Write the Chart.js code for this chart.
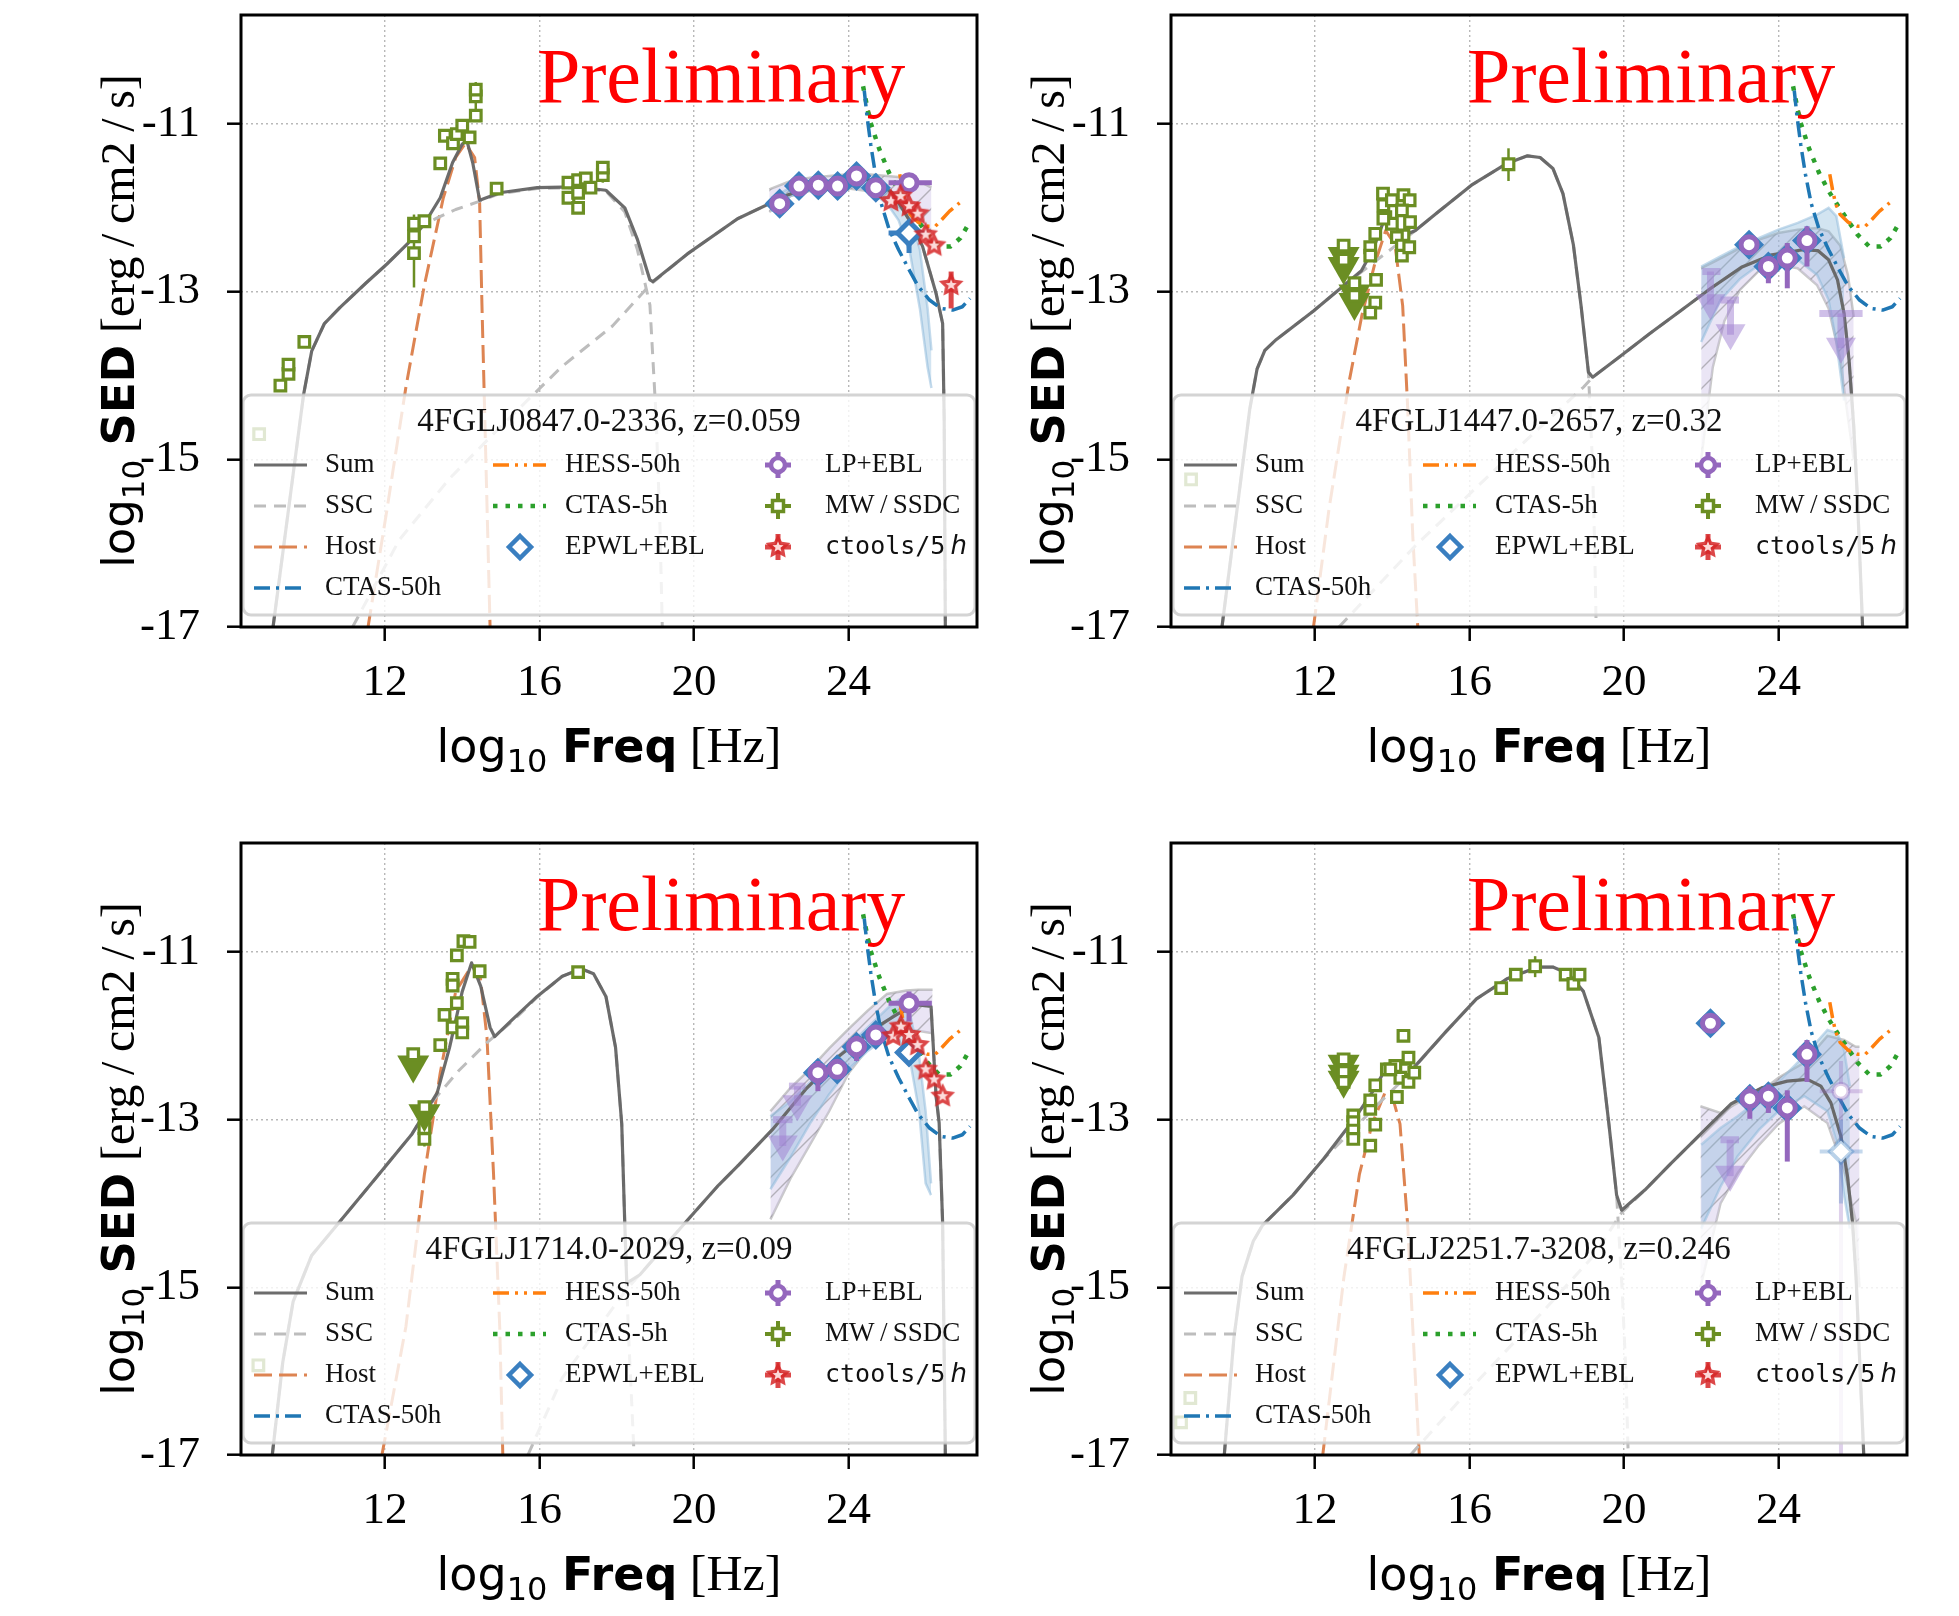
<!DOCTYPE html>
<html>
<head>
<meta charset="utf-8">
<title>SED panels</title>
<script src="https://cdn.jsdelivr.net/npm/chart.js@4.4.1/dist/chart.umd.min.js"></script>
<style>
  html, body { margin: 0; padding: 0; background: #fff; }
  body { width: 1959px; height: 1616px; position: relative; overflow: hidden; }
  canvas { position: absolute; }
</style>
</head>
<body>
<canvas id="p1" width="980" height="808" style="left:0;top:0"></canvas>
<canvas id="p2" width="980" height="808" style="left:930px;top:0"></canvas>
<canvas id="p3" width="980" height="808" style="left:0;top:828px"></canvas>
<canvas id="p4" width="980" height="808" style="left:930px;top:828px"></canvas>
<script>
'use strict';

/* axes */
const xTicks = [12, 16, 20, 24];
const yTicks = [-17, -15, -13, -11];
const xRange = [8.27, 27.33];
const yRange = [-17, -9.7];

const sourceNames = ['4FGLJ0847.0-2336, z=0.059', '4FGLJ1447.0-2657, z=0.32',
                     '4FGLJ1714.0-2029, z=0.09', '4FGLJ2251.7-3208, z=0.246'];
const legendLabels = ['Sum', 'SSC', 'Host', 'CTAS-50h', 'HESS-50h', 'CTAS-5h',
                      'EPWL+EBL', 'LP+EBL', 'MW\u2009/\u2009SSDC', 'ctools/5'];

/* instrument sensitivities (same in every panel) */
const ctas50h = [[24.41,-10.6],[24.48,-10.9],[24.58,-11.25],[24.7,-11.6],[24.85,-11.95],[25.05,-12.25],[25.3,-12.5],[25.55,-12.72],[25.8,-12.93],[26.1,-13.1],[26.4,-13.2],[26.7,-13.22],[26.95,-13.18],[27.15,-13.08]];
const ctas5h = [[24.38,-10.55],[24.55,-10.95],[24.8,-11.3],[25.05,-11.58],[25.3,-11.8],[25.55,-11.98],[25.8,-12.15],[26.05,-12.32],[26.35,-12.46],[26.65,-12.46],[26.9,-12.36],[27.13,-12.18]];
const hess50h = [[25.33,-11.6],[25.4,-11.78],[25.48,-11.95],[25.6,-12.08],[25.8,-12.17],[26.05,-12.22],[26.25,-12.22],[26.42,-12.14],[26.62,-12.04],[26.88,-11.94]];

/* panel 1 : 4FGLJ0847.0-2336 */
const p1Sum = [[9.1,-17],[9.5,-15.6],[9.89,-14.23],[10.1,-13.71],[10.43,-13.38],[10.83,-13.19],[11.5,-12.9],[12.05,-12.67],[12.6,-12.42],[13.02,-12.19],[13.43,-11.88],[13.75,-11.46],[14.0,-11.24],[14.12,-11.2],[14.27,-11.46],[14.45,-11.91],[14.97,-11.82],[15.94,-11.76],[16.91,-11.75],[17.72,-11.79],[18.21,-12.0],[18.53,-12.37],[18.86,-12.86],[18.94,-12.88],[19.83,-12.55],[21.13,-12.13],[22.46,-11.84],[23.33,-11.71],[24.02,-11.65],[24.62,-11.67],[25.14,-11.82],[25.57,-12.14],[25.92,-12.46],[26.27,-13.02],[26.44,-13.38],[26.48,-14.5],[26.51,-17]];
const p1SscSyn = [[9.1,-17],[9.5,-15.6],[9.89,-14.23],[10.1,-13.71],[10.43,-13.38],[10.83,-13.19],[11.5,-12.9],[12.05,-12.67],[12.6,-12.42],[13.02,-12.2],[13.35,-12.12],[13.83,-12.02],[14.4,-11.93],[14.97,-11.83],[15.94,-11.77],[16.91,-11.76],[17.72,-11.8],[18.21,-12.05],[18.53,-12.49],[18.86,-13.16],[19.02,-14.5],[19.12,-15.8],[19.18,-17]];
const p1SscIc = [[11.16,-17],[12.37,-15.96],[13.67,-15.23],[14.97,-14.62],[16.59,-13.89],[17.89,-13.41],[18.86,-12.92],[19.83,-12.55],[21.13,-12.13],[22.46,-11.84],[23.33,-11.71],[24.02,-11.65],[24.62,-11.67],[25.14,-11.82],[25.57,-12.14],[25.92,-12.46],[26.27,-13.02],[26.44,-13.38],[26.48,-14.5],[26.51,-17]];
const p1Host = [[11.56,-17],[12.05,-15.6],[12.54,-14.14],[13.02,-12.92],[13.51,-11.88],[13.83,-11.4],[14.08,-11.23],[14.32,-11.4],[14.45,-11.94],[14.51,-13.16],[14.61,-14.99],[14.72,-17]];
const p1Mw = [[8.74,-14.7],[9.29,-14.12],[9.5,-13.98],[9.5,-13.87],[9.91,-13.6],[12.75,-12.19,-12.95,-12.08],[12.75,-12.34],[12.75,-12.54],[13.02,-12.16],[13.43,-11.47],[13.55,-11.14],[13.76,-11.23],[13.86,-11.12],[14.0,-11.02],[14.19,-11.16],[14.35,-10.9],[14.35,-10.67],[14.35,-10.59,-10.95,-10.5],[14.89,-11.77],[16.75,-11.7],[16.75,-11.88],[17.0,-12.0],[17.0,-11.82],[17.0,-11.67],[17.2,-11.65],[17.32,-11.76],[17.64,-11.61],[17.64,-11.52,-11.7,-11.45]];
const p1Lp = [[22.22,-11.95,-12.08,-11.85],[22.72,-11.74],[23.22,-11.73],[23.72,-11.74],[24.21,-11.62],[24.71,-11.76],[25.57,-11.7,-11.78,-11.62,25.04,26.16]];
const p1Epwl = [[22.22,-11.95],[22.72,-11.74],[23.22,-11.73],[23.72,-11.74],[24.21,-11.62],[24.71,-11.76],[25.57,-12.3,-12.54,-12.18,25.04,26.05]];
const p1Ctools = [[25.1,-11.92],[25.35,-11.86],[25.57,-11.98],[25.79,-12.07],[26.0,-12.32],[26.22,-12.45],[26.66,-12.92,-13.2,-12.76]];
const p1LpBand = [[21.95,-12.05,-11.78],[22.5,-11.86,-11.68],[23.0,-11.8,-11.64],[23.5,-11.78,-11.62],[24.0,-11.77,-11.6],[24.5,-11.8,-11.6],[25.0,-11.9,-11.62],[25.5,-12.05,-11.64],[25.9,-12.2,-11.7],[26.15,-12.28,-11.76]];
const p1EpwlBand = [[22.0,-12.04,-11.88],[22.5,-11.86,-11.76],[23.0,-11.78,-11.7],[23.5,-11.75,-11.67],[24.0,-11.74,-11.65],[24.5,-11.78,-11.67],[25.0,-11.95,-11.76],[25.3,-12.15,-11.88],[25.6,-12.55,-12.1],[25.85,-13.2,-12.5],[26.05,-13.9,-13.2],[26.15,-14.15,-13.7]];

/* panel 2 : 4FGLJ1447.0-2657 */
const p2Sum = [[9.59,-17],[9.98,-15.6],[10.31,-14.4],[10.5,-13.92],[10.7,-13.7],[11.0,-13.57],[11.96,-13.23],[12.74,-12.93],[13.2,-12.75],[13.5,-12.5],[13.81,-12.12],[14.05,-12.22],[14.3,-12.33],[14.6,-12.27],[15.13,-12.07],[16.05,-11.73],[16.97,-11.47],[17.5,-11.38],[17.83,-11.4],[18.16,-11.53],[18.42,-11.83],[18.69,-12.44],[18.89,-13.17],[19.08,-13.96],[19.19,-14.02],[19.88,-13.78],[20.67,-13.5],[21.46,-13.23],[22.25,-12.96],[23.04,-12.71],[23.83,-12.56],[24.63,-12.5],[25.02,-12.51],[25.3,-12.62],[25.53,-12.86],[25.7,-13.26],[25.83,-13.82],[25.95,-14.6],[26.05,-15.5],[26.18,-17]];
const p2SscSyn = [[9.59,-17],[9.98,-15.6],[10.31,-14.4],[10.5,-13.92],[10.7,-13.7],[11.0,-13.57],[11.96,-13.23],[12.74,-12.93],[13.3,-12.73],[13.95,-12.5],[14.6,-12.27],[15.13,-12.07],[16.05,-11.73],[16.97,-11.47],[17.5,-11.38],[17.83,-11.4],[18.16,-11.53],[18.42,-11.83],[18.69,-12.44],[18.89,-13.17],[19.08,-13.96],[19.18,-15.0],[19.24,-16.0],[19.28,-17]];
const p2SscIc = [[12.62,-17],[14.6,-16.03],[17.24,-14.87],[18.95,-14.14],[19.19,-14.02],[19.88,-13.78],[20.67,-13.5],[21.46,-13.23],[22.25,-12.96],[23.04,-12.71],[23.83,-12.56],[24.63,-12.5],[25.02,-12.51],[25.3,-12.62],[25.53,-12.86],[25.7,-13.26],[25.83,-13.82],[25.95,-14.6],[26.05,-15.5],[26.18,-17]];
const p2Host = [[11.96,-17],[12.36,-15.6],[12.88,-14.08],[13.21,-13.29],[13.54,-12.68],[13.83,-12.27],[14.07,-12.44],[14.27,-13.17],[14.4,-14.39],[14.53,-15.9],[14.66,-17]];
const p2Mw = [[8.79,-15.24],[13.76,-11.83],[13.77,-11.97],[13.99,-11.91],[14.29,-11.85],[14.45,-11.91],[14.25,-12.03],[13.82,-12.11],[13.99,-12.19],[14.29,-12.33],[14.46,-12.17],[14.12,-12.35],[14.25,-12.45],[14.25,-12.57],[14.44,-12.47],[13.56,-12.31],[13.43,-12.47],[13.43,-12.57],[13.58,-12.86],[13.56,-13.13],[13.43,-13.25],[13.77,-12.13],[17.01,-11.48,-11.68,-11.29]];
const p2MwUl = [[12.74,-12.45,0.35],[12.74,-12.62,0.3],[13.02,-12.9,0.35],[13.02,-13.05,0.3]];
const p2Lp = [[23.24,-12.44],[23.74,-12.7,-12.9,-12.58],[24.23,-12.6,-12.96,-12.42],[24.74,-12.39,-12.7,-12.22]];
const p2Epwl = [[23.24,-12.44],[23.74,-12.7],[24.23,-12.6],[24.74,-12.39]];
const p2LpUl = [[22.24,-12.76,22.03,22.5,0.58],[22.76,-13.1,22.5,22.98,0.6],[25.62,-13.26,25.06,26.18,0.6]];
const p2LpBand = [[22.0,-15.0,-12.72],[22.3,-13.9,-12.65],[22.6,-13.35,-12.58],[23.0,-12.98,-12.48],[23.5,-12.75,-12.38],[24.0,-12.68,-12.3],[24.5,-12.72,-12.26],[25.0,-12.92,-12.24],[25.3,-13.2,-12.28],[25.6,-13.8,-12.45],[25.8,-14.5,-12.8],[25.95,-15.0,-13.3]];
const p2EpwlBand = [[22.0,-13.6,-12.7],[22.5,-13.1,-12.58],[23.0,-12.85,-12.46],[23.5,-12.68,-12.36],[24.0,-12.6,-12.26],[24.5,-12.62,-12.18],[25.0,-12.8,-12.08],[25.3,-13.1,-12.0],[25.5,-13.6,-12.1],[25.7,-14.3,-12.6]];

/* panel 3 : 4FGLJ1714.0-2029 */
const p3Sum = [[9.08,-17],[9.35,-15.9],[9.62,-15.17],[10.1,-14.62],[10.75,-14.26],[11.72,-13.72],[12.7,-13.17],[13.35,-12.68],[13.67,-12.14],[14.0,-11.47],[14.24,-11.13],[14.48,-11.41],[14.72,-11.9],[14.84,-12.01],[15.29,-11.81],[15.94,-11.53],[16.59,-11.29],[17.08,-11.2],[17.4,-11.26],[17.72,-11.53],[17.97,-12.14],[18.13,-13.05],[18.21,-14.26],[18.26,-14.95],[18.6,-14.85],[19.83,-14.2],[20.64,-13.78],[21.16,-13.54],[22.03,-13.12],[22.89,-12.64],[23.76,-12.24],[24.62,-11.93],[25.31,-11.73],[25.8,-11.63],[26.14,-11.65],[26.27,-12.72],[26.35,-13.04],[26.44,-14.23],[26.51,-17]];
const p3SscSyn = [[9.08,-17],[9.35,-15.9],[9.62,-15.17],[10.1,-14.62],[10.75,-14.26],[11.72,-13.72],[12.7,-13.17],[13.18,-12.81],[13.9,-12.42],[14.64,-12.08],[15.29,-11.83],[15.94,-11.54],[16.59,-11.29],[17.08,-11.2],[17.4,-11.26],[17.72,-11.53],[17.97,-12.14],[18.13,-13.05],[18.21,-14.26],[18.3,-15.5],[18.45,-17]];
const p3SscIc = [[15.7,-17],[16.59,-16.08],[18.21,-15.05],[19.83,-14.2],[20.64,-13.78],[21.16,-13.54],[22.03,-13.12],[22.89,-12.64],[23.76,-12.24],[24.62,-11.93],[25.31,-11.73],[25.8,-11.63],[26.14,-11.65],[26.27,-12.72],[26.35,-13.04],[26.44,-14.23],[26.51,-17]];
const p3Host = [[11.92,-17],[12.54,-15.47],[13.02,-13.65],[13.43,-12.44],[13.83,-11.47],[14.24,-11.17],[14.45,-11.23],[14.64,-12.02],[14.81,-13.65],[14.97,-15.47],[15.05,-17]];
const p3Mw = [[8.72,-15.93],[13.02,-13.1],[13.02,-13.23,-13.32,-12.95],[13.43,-12.11],[13.54,-11.75],[13.75,-11.9],[13.75,-11.32],[13.75,-11.4],[13.86,-11.61],[14.0,-11.85],[14.0,-11.96],[13.86,-11.04],[14.03,-10.87],[14.19,-10.88],[14.45,-11.23],[17.0,-11.24]];
const p3MwUl = [[12.73,-12.22,0.35],[13.02,-12.85,0.3]];
const p3Lp = [[23.21,-12.44,-12.66,-12.3],[23.71,-12.4],[24.21,-12.13,-12.3,-12.0],[24.71,-11.99,-12.1,-11.88],[25.57,-11.61,-11.83,-11.47,25.04,26.16]];
const p3Epwl = [[23.21,-12.44],[23.71,-12.4],[24.21,-12.13],[24.71,-11.99],[25.57,-12.2,-12.32,-12.1]];
const p3LpUl = [[22.68,-12.6,22.46,22.89,0.42],[22.3,-13.0,22.05,22.55,0.5]];
const p3Ctools = [[25.16,-12.0],[25.36,-11.89],[25.57,-11.99],[25.79,-12.11],[26.0,-12.4],[26.22,-12.52],[26.44,-12.72]];
const p3LpBand = [[21.98,-14.19,-12.9],[22.5,-13.7,-12.62],[23.0,-13.3,-12.4],[23.5,-12.9,-12.15],[24.0,-12.45,-11.92],[24.5,-12.15,-11.7],[25.0,-11.98,-11.5],[25.5,-11.92,-11.46],[25.8,-11.94,-11.45],[26.18,-11.97,-11.45]];
const p3EpwlBand = [[21.98,-13.83,-12.96],[22.5,-13.45,-12.78],[23.0,-13.05,-12.56],[23.5,-12.7,-12.35],[24.0,-12.4,-12.12],[24.5,-12.18,-11.9],[25.06,-12.0,-11.65],[25.31,-12.05,-11.57],[25.6,-12.3,-11.75],[25.83,-12.9,-12.24],[26.0,-13.76,-12.9],[26.14,-13.9,-13.76]];

/* panel 4 : 4FGLJ2251.7-3208 */
const p4Sum = [[9.65,-17],[9.9,-15.6],[10.11,-14.87],[10.4,-14.45],[10.64,-14.26],[11.43,-13.9],[12.22,-13.47],[13.02,-12.99],[13.5,-12.66],[13.81,-12.41],[14.0,-12.38],[14.2,-12.44],[14.4,-12.46],[15.39,-11.95],[16.18,-11.56],[16.97,-11.32],[17.77,-11.18],[18.16,-11.18],[18.56,-11.26],[18.95,-11.47],[19.35,-12.02],[19.61,-13.05],[19.81,-13.9],[19.94,-14.08],[20.54,-13.84],[21.2,-13.53],[21.99,-13.17],[22.78,-12.81],[23.57,-12.62],[24.23,-12.54],[24.75,-12.52],[25.1,-12.6],[25.36,-12.8],[25.62,-13.2],[25.79,-13.68],[25.92,-14.23],[26.01,-14.87],[26.21,-17]];
const p4SscSyn = [[9.65,-17],[9.9,-15.6],[10.11,-14.87],[10.4,-14.45],[10.64,-14.26],[11.43,-13.9],[12.22,-13.47],[13.02,-13.1],[13.73,-12.77],[14.4,-12.47],[15.39,-11.95],[16.18,-11.56],[16.97,-11.32],[17.77,-11.18],[18.16,-11.18],[18.56,-11.26],[18.95,-11.47],[19.35,-12.02],[19.61,-13.05],[19.81,-13.9],[19.95,-15.0],[20.05,-16.0],[20.11,-17]];
const p4SscIc = [[14.47,-17],[15.92,-16.26],[17.9,-15.29],[19.22,-14.62],[19.94,-14.11],[20.54,-13.84],[21.2,-13.53],[21.99,-13.17],[22.78,-12.81],[23.57,-12.62],[24.23,-12.54],[24.75,-12.52],[25.1,-12.6],[25.36,-12.8],[25.62,-13.2],[25.79,-13.68],[25.92,-14.23],[26.01,-14.87],[26.21,-17]];
const p4Host = [[12.2,-17],[12.75,-14.87],[13.15,-13.65],[13.48,-13.05],[13.81,-12.68],[14.0,-12.72],[14.2,-13.05],[14.4,-14.26],[14.53,-15.47],[14.7,-17]];
const p4Mw = [[8.77,-16.32],[8.53,-16.61],[12.99,-12.95],[12.99,-13.03],[12.99,-13.13],[12.99,-13.23],[13.43,-13.31],[13.56,-13.06],[13.43,-12.87],[13.43,-12.77],[13.56,-12.59],[13.86,-12.4],[14.12,-12.73],[14.29,-12.0],[14.33,-12.4],[14.21,-12.5],[14.42,-12.55],[14.57,-12.44],[14.42,-12.26],[14.08,-12.36],[13.95,-12.4],[16.82,-11.43],[17.2,-11.27],[17.7,-11.17,-11.3,-11.05],[18.49,-11.27],[18.69,-11.38],[18.85,-11.27]];
const p4MwUl = [[12.74,-12.28,0.28],[12.74,-12.43,0.25],[12.74,-12.55,0.2]];
const p4Lp = [[22.24,-11.85],[23.26,-12.75,-12.99,-12.6],[23.74,-12.72,-12.92,-12.58],[24.23,-12.86,-13.5,-12.65],[24.74,-12.22,-12.55,-12.05]];
const p4Epwl = [[22.24,-11.85],[23.26,-12.75],[23.74,-12.72],[24.23,-12.86],[24.74,-12.22]];
const p4LpFaint = [[25.62,-12.66,-17,-12.3,25.07,26.18]];
const p4EpwlFaint = [[25.62,-13.38,-14.0,-13.0,25.07,26.18]];
const p4LpUl = [[22.75,-13.24,22.5,22.98,0.62]];
const p4LpBand = [[21.98,-15.0,-12.84],[22.5,-14.0,-12.92],[22.94,-13.64,-12.8],[23.5,-13.3,-12.68],[24.0,-13.05,-12.5],[24.67,-12.84,-12.32],[25.27,-13.04,-12.0],[25.7,-13.6,-12.05],[26.0,-14.2,-12.13],[26.1,-15.0,-12.13]];
const p4EpwlBand = [[22.0,-14.3,-13.3],[22.5,-13.8,-13.1],[22.94,-13.44,-12.96],[23.5,-13.12,-12.76],[24.0,-12.9,-12.55],[24.67,-12.72,-12.24],[25.27,-12.9,-11.93],[25.53,-13.3,-11.97],[25.7,-13.9,-12.17],[25.85,-14.3,-12.6]];

/* colours */
const C = {
  sum: 'rgba(100,100,100,0.95)', ssc: '#bdbdbd', host: '#dd8452',
  ctas50: '#1f77b4', hess: '#ff7f0e', ctas5: '#2ca02c',
  epwl: '#3a7fc0', lp: '#9467bd', mw: '#6b8e23', red: 'rgba(214,39,40,0.85)'
};
const SERIF = "'Liberation Serif', serif";
const SANS = "'DejaVu Sans', sans-serif";
const PLOT_TOP = 15;

const curve = a => a.map(p => ({x: p[0], y: p[1]}));
const pts = a => a.map(p => ({x: p[0], y: p[1], yl: p[2], yh: p[3], xl: p[4], xh: p[5]}));
const uls = a => a.map(p => ({x: p[0], y: p[1], ul: p[2]}));
const capUls = a => a.map(p => ({x: p[0], y: p[1], xl: p[2], xh: p[3], ul: p[4]}));

function starImage(r) {
  const s = Math.ceil(r * 2 + 4);
  const c = document.createElement('canvas');
  c.width = s; c.height = s;
  const g = c.getContext('2d');
  const path = (ro, ri) => {
    g.beginPath();
    for (let i = 0; i < 10; i++) {
      const rr = i % 2 ? ri : ro;
      const ang = -Math.PI / 2 + i * Math.PI / 5;
      g.lineTo(s / 2 + rr * Math.cos(ang), s / 2 + rr * Math.sin(ang));
    }
    g.closePath();
  };
  path(r, r * 0.5);
  g.fillStyle = C.red; g.fill();
  path(r * 0.45, r * 0.2);
  g.fillStyle = 'rgba(255,228,228,0.95)'; g.fill();
  return c;
}
const STAR = starImage(13);

function hatch(bg, line) {
  const c = document.createElement('canvas');
  c.width = 20; c.height = 20;
  const g = c.getContext('2d');
  g.fillStyle = bg; g.fillRect(0, 0, 20, 20);
  g.strokeStyle = line; g.lineWidth = 1.4;
  g.beginPath();
  g.moveTo(0, 20); g.lineTo(20, 0);
  g.moveTo(-10, 10); g.lineTo(10, -10);
  g.moveTo(10, 30); g.lineTo(30, 10);
  g.stroke();
  return g.createPattern(c, 'repeat');
}

/* error bars and upper-limit arrows, drawn just under each dataset's markers */
const errorBars = {
  id: 'errorBars',
  beforeDatasetDraw(chart, args) {
    const ds = chart.data.datasets[args.index];
    const e = ds.err;
    if (!e) return;
    const ctx = chart.ctx, a = chart.chartArea;
    const X = v => chart.scales.x.getPixelForValue(v);
    const Y = v => chart.scales.y.getPixelForValue(v);
    ctx.save();
    ctx.beginPath(); ctx.rect(a.left, a.top, a.width, a.height); ctx.clip();
    ctx.strokeStyle = e.color; ctx.fillStyle = e.color; ctx.lineWidth = e.width;
    for (const p of ds.data) {
      const x = X(p.x), y = Y(p.y);
      ctx.beginPath();
      if (p.yl != null) { ctx.moveTo(x, Y(p.yl)); ctx.lineTo(x, Y(p.yh)); }
      if (p.xl != null) { ctx.moveTo(X(p.xl), y); ctx.lineTo(X(p.xh), y); }
      ctx.stroke();
      if (p.ul) {
        const tip = Y(p.y - p.ul);
        const hw = e.head[0] / 2, hh = e.head[1];
        ctx.beginPath(); ctx.moveTo(x, y); ctx.lineTo(x, tip - hh * 0.6); ctx.stroke();
        ctx.beginPath();
        ctx.moveTo(x - hw, tip - hh); ctx.lineTo(x + hw, tip - hh); ctx.lineTo(x, tip);
        ctx.closePath(); ctx.fill();
      }
    }
    ctx.restore();
  }
};

function drawRich(ctx, parts, x, y) {
  let w = 0;
  parts.forEach(p => { ctx.font = p.font; p.w = ctx.measureText(p.text).width; w += p.w; });
  let cx = x - w / 2;
  parts.forEach(p => { ctx.font = p.font; ctx.fillText(p.text, cx, y + (p.dy || 0)); cx += p.w; });
}

function legendMarker(ctx, kind, x, y) {
  ctx.save();
  if (kind === 'diamond') {
    ctx.lineWidth = 4.5; ctx.strokeStyle = C.epwl; ctx.fillStyle = '#fff';
    ctx.beginPath();
    ctx.moveTo(x, y - 11); ctx.lineTo(x + 11, y); ctx.lineTo(x, y + 11); ctx.lineTo(x - 11, y);
    ctx.closePath(); ctx.fill(); ctx.stroke();
  } else {
    const col = kind === 'circle' ? C.lp : kind === 'square' ? C.mw : C.red;
    ctx.strokeStyle = col; ctx.lineWidth = kind === 'square' ? 4 : 5;
    ctx.beginPath();
    ctx.moveTo(x - 13, y); ctx.lineTo(x + 13, y);
    ctx.moveTo(x, y - 13); ctx.lineTo(x, y + 13);
    ctx.stroke();
    if (kind === 'circle') {
      ctx.fillStyle = '#fff'; ctx.lineWidth = 4.5;
      ctx.beginPath(); ctx.arc(x, y, 7, 0, Math.PI * 2); ctx.fill(); ctx.stroke();
    } else if (kind === 'square') {
      ctx.fillStyle = '#fff'; ctx.lineWidth = 3.5;
      ctx.fillRect(x - 5.5, y - 5.5, 11, 11); ctx.strokeRect(x - 5.5, y - 5.5, 11, 11);
    } else {
      ctx.drawImage(STAR, x - STAR.width / 2, y - STAR.height / 2);
    }
  }
  ctx.restore();
}

function drawLegend(chart, title) {
  const ctx = chart.ctx, a = chart.chartArea, L = a.left, T = a.top;
  ctx.save();
  ctx.beginPath();
  ctx.roundRect(L + 2, T + 380, a.width - 4, 220, 8);
  ctx.fillStyle = 'rgba(255,255,255,0.8)';
  ctx.fill();
  ctx.lineWidth = 3;
  ctx.strokeStyle = 'rgba(204,204,204,0.85)';
  ctx.stroke();

  ctx.fillStyle = '#111';
  ctx.textAlign = 'center';
  ctx.textBaseline = 'alphabetic';
  ctx.font = '33px ' + SERIF;
  ctx.fillText(title, L + a.width / 2, T + 416);

  const rows = [450, 491, 532, 573].map(v => T + v);
  const lines = [
    [0, 0, C.sum, [], 3], [0, 1, C.ssc, [12, 8], 3], [0, 2, C.host, [18, 7], 3],
    [0, 3, C.ctas50, [16, 6, 3, 6], 3.5], [1, 0, C.hess, [16, 6, 3, 6, 3, 6], 3.5], [1, 1, C.ctas5, [4.5, 8], 4.5]
  ];
  const lineX = [L + 13, L + 252];
  lines.forEach(([col, row, color, dash, w]) => {
    ctx.save();
    ctx.strokeStyle = color; ctx.lineWidth = w; ctx.setLineDash(dash);
    ctx.beginPath(); ctx.moveTo(lineX[col], rows[row]); ctx.lineTo(lineX[col] + 53, rows[row]); ctx.stroke();
    ctx.restore();
  });
  legendMarker(ctx, 'diamond', L + 279, rows[2]);
  legendMarker(ctx, 'circle', L + 537, rows[0]);
  legendMarker(ctx, 'square', L + 537, rows[1]);
  legendMarker(ctx, 'star', L + 537, rows[2]);

  const textX = [L + 84, L + 324, L + 584];
  const slots = [[0, 0], [0, 1], [0, 2], [0, 3], [1, 0], [1, 1], [1, 2], [2, 0], [2, 1], [2, 2]];
  ctx.textAlign = 'left';
  ctx.textBaseline = 'middle';
  ctx.fillStyle = '#111';
  slots.forEach(([col, row], i) => {
    if (i === 9) {
      ctx.font = "25px 'DejaVu Sans Mono', monospace";
      ctx.fillText(legendLabels[i], textX[col], rows[row]);
      const w = ctx.measureText(legendLabels[i]).width;
      ctx.font = 'italic 26px ' + SANS;
      ctx.fillText('h', textX[col] + w + 5, rows[row]);
    } else {
      ctx.font = '27px ' + SERIF;
      ctx.fillText(legendLabels[i], textX[col], rows[row]);
    }
  });
  ctx.restore();
}

const decor = {
  id: 'decor',
  beforeDatasetsDraw(chart) {
    const ctx = chart.ctx, a = chart.chartArea;
    ctx.save();
    ctx.font = '78px ' + SERIF;
    ctx.fillStyle = '#ff0000';
    ctx.textAlign = 'left';
    ctx.textBaseline = 'alphabetic';
    ctx.fillText('Preliminary', a.left + 296, a.top + 87);
    ctx.restore();
  },
  afterDatasetsDraw(chart, args, opts) {
    drawLegend(chart, opts.title);
    const ctx = chart.ctx, a = chart.chartArea;
    ctx.save();
    ctx.strokeStyle = '#000'; ctx.lineWidth = 3;
    ctx.strokeRect(a.left, a.top, a.width, a.height);
    ctx.restore();
  },
  afterDraw(chart) {
    const ctx = chart.ctx, a = chart.chartArea;
    ctx.save();
    ctx.fillStyle = '#000';
    ctx.textAlign = 'left';
    ctx.textBaseline = 'alphabetic';
    drawRich(ctx, [
      {text: 'log', font: '46px ' + SANS},
      {text: '10', font: '32px ' + SANS, dy: 10},
      {text: ' ', font: '46px ' + SANS},
      {text: 'Freq', font: 'bold 46px ' + SANS},
      {text: ' [Hz]', font: '50px ' + SERIF}
    ], (a.left + a.right) / 2, a.bottom + 135);
    ctx.translate(134, (a.top + a.bottom) / 2);
    ctx.rotate(-Math.PI / 2);
    drawRich(ctx, [
      {text: 'log', font: '45px ' + SANS},
      {text: '10', font: '31px ' + SANS, dy: 10},
      {text: ' ', font: '45px ' + SANS},
      {text: 'SED', font: 'bold 45px ' + SANS},
      {text: ' [erg\u2009/\u2009cm2\u2009/\u2009s]', font: '48px ' + SERIF}
    ], 0, 0);
    ctx.restore();
  }
};

function lineDs(data, color, dash, width, order) {
  return {data: curve(data), borderColor: color, borderDash: dash, borderWidth: width,
          pointRadius: 0, fill: false, order, borderCapStyle: 'butt', borderJoinStyle: 'round'};
}
function bandDs(band, bg, edge, order) {
  return [
    {data: band.map(b => ({x: b[0], y: b[2]})), borderColor: edge, borderWidth: 2.5,
     backgroundColor: bg, fill: '+1', pointRadius: 0, order},
    {data: band.map(b => ({x: b[0], y: b[1]})), borderColor: edge, borderWidth: 2.5,
     fill: false, pointRadius: 0, order}
  ];
}
function markDs(data, style, radius, color, bw, order, err) {
  return {data, showLine: false, pointStyle: style, pointRadius: radius, pointHoverRadius: radius,
          pointBorderColor: color, pointBackgroundColor: '#fff', pointBorderWidth: bw,
          borderColor: color, order, err};
}

function buildPanel(id, d, title) {
  const ds = [];
  ds.push(...bandDs(d.lpBand, hatch('rgba(205,192,232,0.42)', 'rgba(110,110,110,0.45)'), 'rgba(165,165,165,0.6)', 21));
  ds.push(...bandDs(d.epwlBand, 'rgba(125,178,215,0.35)', 'rgba(150,190,220,0.55)', 20));
  ds.push(lineDs(d.host, C.host, [18, 7], 3, 14));
  ds.push(lineDs(d.sscSyn, C.ssc, [12, 8], 3, 13));
  ds.push(lineDs(d.sscIc, C.ssc, [12, 8], 3, 13));
  ds.push(lineDs(d.sum, C.sum, [], 3.2, 12));
  ds.push(lineDs(ctas50h, C.ctas50, [16, 6, 3, 6], 3.5, 11));
  ds.push(lineDs(hess50h, C.hess, [16, 6, 3, 6, 3, 6], 3.5, 11));
  ds.push(lineDs(ctas5h, C.ctas5, [4.5, 8], 4.5, 11));
  if (d.lpUl) ds.push(markDs(capUls(d.lpUl), 'circle', 0, 'rgba(0,0,0,0)', 0, 9,
    {color: 'rgba(160,128,210,0.5)', width: 7, head: [30, 26]}));
  ds.push(markDs(pts(d.mw), 'rect', 7.5, C.mw, 3.2, 7, {color: C.mw, width: 2.5}));
  if (d.mwUl) ds.push(markDs(uls(d.mwUl), 'rect', 7.5, C.mw, 3.2, 6, {color: C.mw, width: 5, head: [32, 28]}));
  if (d.epwlFaint) ds.push(markDs(pts(d.epwlFaint), 'rectRot', 11, 'rgba(58,127,192,0.35)', 4, 5,
    {color: 'rgba(58,127,192,0.3)', width: 4}));
  if (d.lpFaint) ds.push(markDs(pts(d.lpFaint), 'circle', 7.5, 'rgba(148,103,189,0.35)', 4, 5,
    {color: 'rgba(148,103,189,0.3)', width: 4}));
  ds.push(markDs(pts(d.epwl), 'rectRot', 11.5, C.epwl, 5, 4, {color: C.epwl, width: 5}));
  ds.push(markDs(pts(d.lp), 'circle', 8, C.lp, 5, 3, {color: C.lp, width: 5}));
  if (d.ctools) ds.push(markDs(pts(d.ctools), STAR, 13, C.red, 0, 1, {color: C.red, width: 5}));

  const tickFont = {family: SERIF, size: 45};
  const chart = new Chart(document.getElementById(id), {
    type: 'line',
    data: {datasets: ds},
    options: {
      responsive: false,
      devicePixelRatio: 1,
      animation: false,
      events: [],
      layout: {autoPadding: false, padding: {left: 0, top: PLOT_TOP, right: 3, bottom: 0}},
      plugins: {legend: {display: false}, tooltip: {enabled: false}, decor: {title}},
      scales: {
        x: {
          type: 'linear', min: xRange[0], max: xRange[1],
          afterBuildTicks: s => { s.ticks = xTicks.map(v => ({value: v})); },
          afterFit: s => { s.height = 181; s.paddingLeft = 0; s.paddingRight = 0; },
          grid: {color: 'rgba(176,176,176,0.9)', lineWidth: 1.4, tickColor: '#000', tickWidth: 2.5, tickLength: 14},
          border: {display: false, dash: [2, 3]},
          ticks: {font: tickFont, color: '#000', padding: 15, maxRotation: 0, autoSkip: false,
                  callback: v => String(v)}
        },
        y: {
          type: 'linear', min: yRange[0], max: yRange[1],
          afterBuildTicks: s => { s.ticks = yTicks.map(v => ({value: v})); },
          afterFit: s => { s.width = 241; s.paddingTop = 0; s.paddingBottom = 0; },
          grid: {color: 'rgba(176,176,176,0.9)', lineWidth: 1.4, tickColor: '#000', tickWidth: 2.5, tickLength: 14},
          border: {display: false, dash: [2, 3]},
          ticks: {font: tickFont, color: '#000', padding: 27, autoSkip: false,
                  callback: v => String(v)}
        }
      }
    },
    plugins: [errorBars, decor]
  });
  // keep the plot frame where the reference has it, whatever padding the scales asked for
  const extra = chart.chartArea.top - PLOT_TOP;
  if (Math.abs(extra) > 0.5) {
    chart.options.layout.padding.top = PLOT_TOP - extra;
    chart.update();
  }
}

buildPanel('p1', {sum: p1Sum, sscSyn: p1SscSyn, sscIc: p1SscIc, host: p1Host, mw: p1Mw,
  lp: p1Lp, epwl: p1Epwl, ctools: p1Ctools, lpBand: p1LpBand, epwlBand: p1EpwlBand}, sourceNames[0]);
buildPanel('p2', {sum: p2Sum, sscSyn: p2SscSyn, sscIc: p2SscIc, host: p2Host, mw: p2Mw, mwUl: p2MwUl,
  lp: p2Lp, epwl: p2Epwl, lpUl: p2LpUl, lpBand: p2LpBand, epwlBand: p2EpwlBand}, sourceNames[1]);
buildPanel('p3', {sum: p3Sum, sscSyn: p3SscSyn, sscIc: p3SscIc, host: p3Host, mw: p3Mw, mwUl: p3MwUl,
  lp: p3Lp, epwl: p3Epwl, lpUl: p3LpUl, ctools: p3Ctools, lpBand: p3LpBand, epwlBand: p3EpwlBand}, sourceNames[2]);
buildPanel('p4', {sum: p4Sum, sscSyn: p4SscSyn, sscIc: p4SscIc, host: p4Host, mw: p4Mw, mwUl: p4MwUl,
  lp: p4Lp, epwl: p4Epwl, lpFaint: p4LpFaint, epwlFaint: p4EpwlFaint, lpUl: p4LpUl,
  lpBand: p4LpBand, epwlBand: p4EpwlBand}, sourceNames[3]);
</script>
</body>
</html>
